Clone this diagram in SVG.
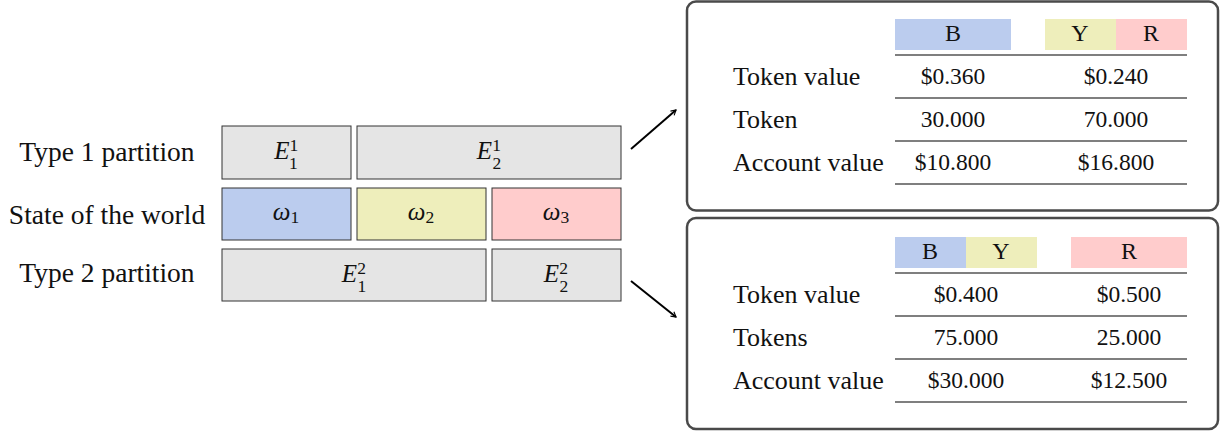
<svg xmlns="http://www.w3.org/2000/svg" width="1225" height="433" viewBox="0 0 1225 433">
<defs>
<style>
text{font-family:"Liberation Serif","Times New Roman",serif;fill:#111;}
.lbl{font-size:27.5px;}
.rl{font-size:26px;}
.tv{font-size:23.5px;}
.hd{font-size:24px;}
.math{font-size:25px;font-style:italic;}
.scr{font-size:17.5px;font-style:normal;}
.box{stroke:#333;stroke-width:1;}
.gray{fill:#e5e5e5;}
.blue{fill:#bbccee;}
.yel{fill:#eeeebb;}
.red{fill:#ffcccc;}
.panel{fill:#fff;stroke:#4a4a4a;stroke-width:2.5;}
.rule{stroke:#555;stroke-width:1.4;}
.conn{stroke:#000;stroke-width:2;fill:none;}
</style>
<marker id="arr" viewBox="0 0 10 10" refX="8" refY="5" markerWidth="7" markerHeight="7" orient="auto" markerUnits="userSpaceOnUse">
<path d="M1,1 L8,5 L1,9" fill="none" stroke="#000" stroke-width="1.6"/>
</marker>
</defs>
<rect width="1225" height="433" fill="#fff"/>

<g id="labels">
<text class="lbl" x="107" y="161" text-anchor="middle">Type 1 partition</text>
<text class="lbl" x="107" y="224" text-anchor="middle">State of the world</text>
<text class="lbl" x="107" y="282" text-anchor="middle">Type 2 partition</text>
</g>

<g id="E11"><rect class="box gray" x="222" y="126" width="129" height="53"/>
<text class="math" x="286" y="159" text-anchor="middle">E<tspan class="scr" dy="-8">1</tspan><tspan class="scr" dx="-8.5" dy="18">1</tspan></text></g>
<g id="E21"><rect class="box gray" x="357" y="126" width="264" height="53"/>
<text class="math" x="489" y="159" text-anchor="middle">E<tspan class="scr" dy="-8">1</tspan><tspan class="scr" dx="-8.5" dy="18">2</tspan></text></g>

<g id="w1"><rect class="box blue" x="222" y="188" width="129" height="52"/>
<text class="math" x="286" y="220" text-anchor="middle">ω<tspan class="scr" dy="3">1</tspan></text></g>
<g id="w2"><rect class="box yel" x="357" y="188" width="129" height="52"/>
<text class="math" x="421" y="220" text-anchor="middle">ω<tspan class="scr" dy="3">2</tspan></text></g>
<g id="w3"><rect class="box red" x="492" y="188" width="129" height="52"/>
<text class="math" x="556" y="220" text-anchor="middle">ω<tspan class="scr" dy="3">3</tspan></text></g>

<g id="E12"><rect class="box gray" x="222" y="249" width="264" height="52"/>
<text class="math" x="354" y="282" text-anchor="middle">E<tspan class="scr" dy="-8">2</tspan><tspan class="scr" dx="-8.5" dy="18">1</tspan></text></g>
<g id="E22"><rect class="box gray" x="492" y="249" width="129" height="52"/>
<text class="math" x="556" y="282" text-anchor="middle">E<tspan class="scr" dy="-8">2</tspan><tspan class="scr" dx="-8.5" dy="18">2</tspan></text></g>

<g id="connectors">
<line class="conn" x1="631" y1="149" x2="676" y2="110" marker-end="url(#arr)"/>
<line class="conn" x1="631" y1="281" x2="676" y2="317" marker-end="url(#arr)"/>
</g>

<g id="panel1">
<rect class="panel" x="687" y="1.5" width="531" height="209" rx="9"/>
<rect class="blue" x="895" y="19" width="116" height="31"/>
<rect class="yel" x="1045" y="19" width="71" height="31"/>
<rect class="red" x="1116" y="19" width="71" height="31"/>
<text class="hd" x="953" y="41" text-anchor="middle">B</text>
<text class="hd" x="1080" y="41" text-anchor="middle">Y</text>
<text class="hd" x="1151" y="41" text-anchor="middle">R</text>
<line class="rule" x1="895" y1="55" x2="1187" y2="55"/>
<line class="rule" x1="895" y1="98" x2="1187" y2="98"/>
<line class="rule" x1="895" y1="141" x2="1187" y2="141"/>
<line class="rule" x1="895" y1="184" x2="1187" y2="184"/>
<text class="rl" x="733" y="85">Token value</text>
<text class="rl" x="733" y="128">Token</text>
<text class="rl" x="733" y="171">Account value</text>
<text class="tv" x="953" y="84" text-anchor="middle">$0.360</text>
<text class="tv" x="953" y="127" text-anchor="middle">30.000</text>
<text class="tv" x="953" y="170" text-anchor="middle">$10.800</text>
<text class="tv" x="1116" y="84" text-anchor="middle">$0.240</text>
<text class="tv" x="1116" y="127" text-anchor="middle">70.000</text>
<text class="tv" x="1116" y="170" text-anchor="middle">$16.800</text>
</g>

<g id="panel2">
<rect class="panel" x="687" y="218" width="531" height="211" rx="9"/>
<rect class="blue" x="895" y="237" width="71" height="31"/>
<rect class="yel" x="966" y="237" width="71" height="31"/>
<rect class="red" x="1071" y="237" width="116" height="31"/>
<text class="hd" x="930" y="259" text-anchor="middle">B</text>
<text class="hd" x="1001" y="259" text-anchor="middle">Y</text>
<text class="hd" x="1129" y="259" text-anchor="middle">R</text>
<line class="rule" x1="895" y1="273" x2="1187" y2="273" stroke="#111"/>
<line class="rule" x1="895" y1="316" x2="1187" y2="316"/>
<line class="rule" x1="895" y1="359" x2="1187" y2="359"/>
<line class="rule" x1="895" y1="402" x2="1187" y2="402"/>
<text class="rl" x="733" y="303">Token value</text>
<text class="rl" x="733" y="346">Tokens</text>
<text class="rl" x="733" y="389">Account value</text>
<text class="tv" x="966" y="302" text-anchor="middle">$0.400</text>
<text class="tv" x="966" y="345" text-anchor="middle">75.000</text>
<text class="tv" x="966" y="388" text-anchor="middle">$30.000</text>
<text class="tv" x="1129" y="302" text-anchor="middle">$0.500</text>
<text class="tv" x="1129" y="345" text-anchor="middle">25.000</text>
<text class="tv" x="1129" y="388" text-anchor="middle">$12.500</text>
</g>
</svg>
